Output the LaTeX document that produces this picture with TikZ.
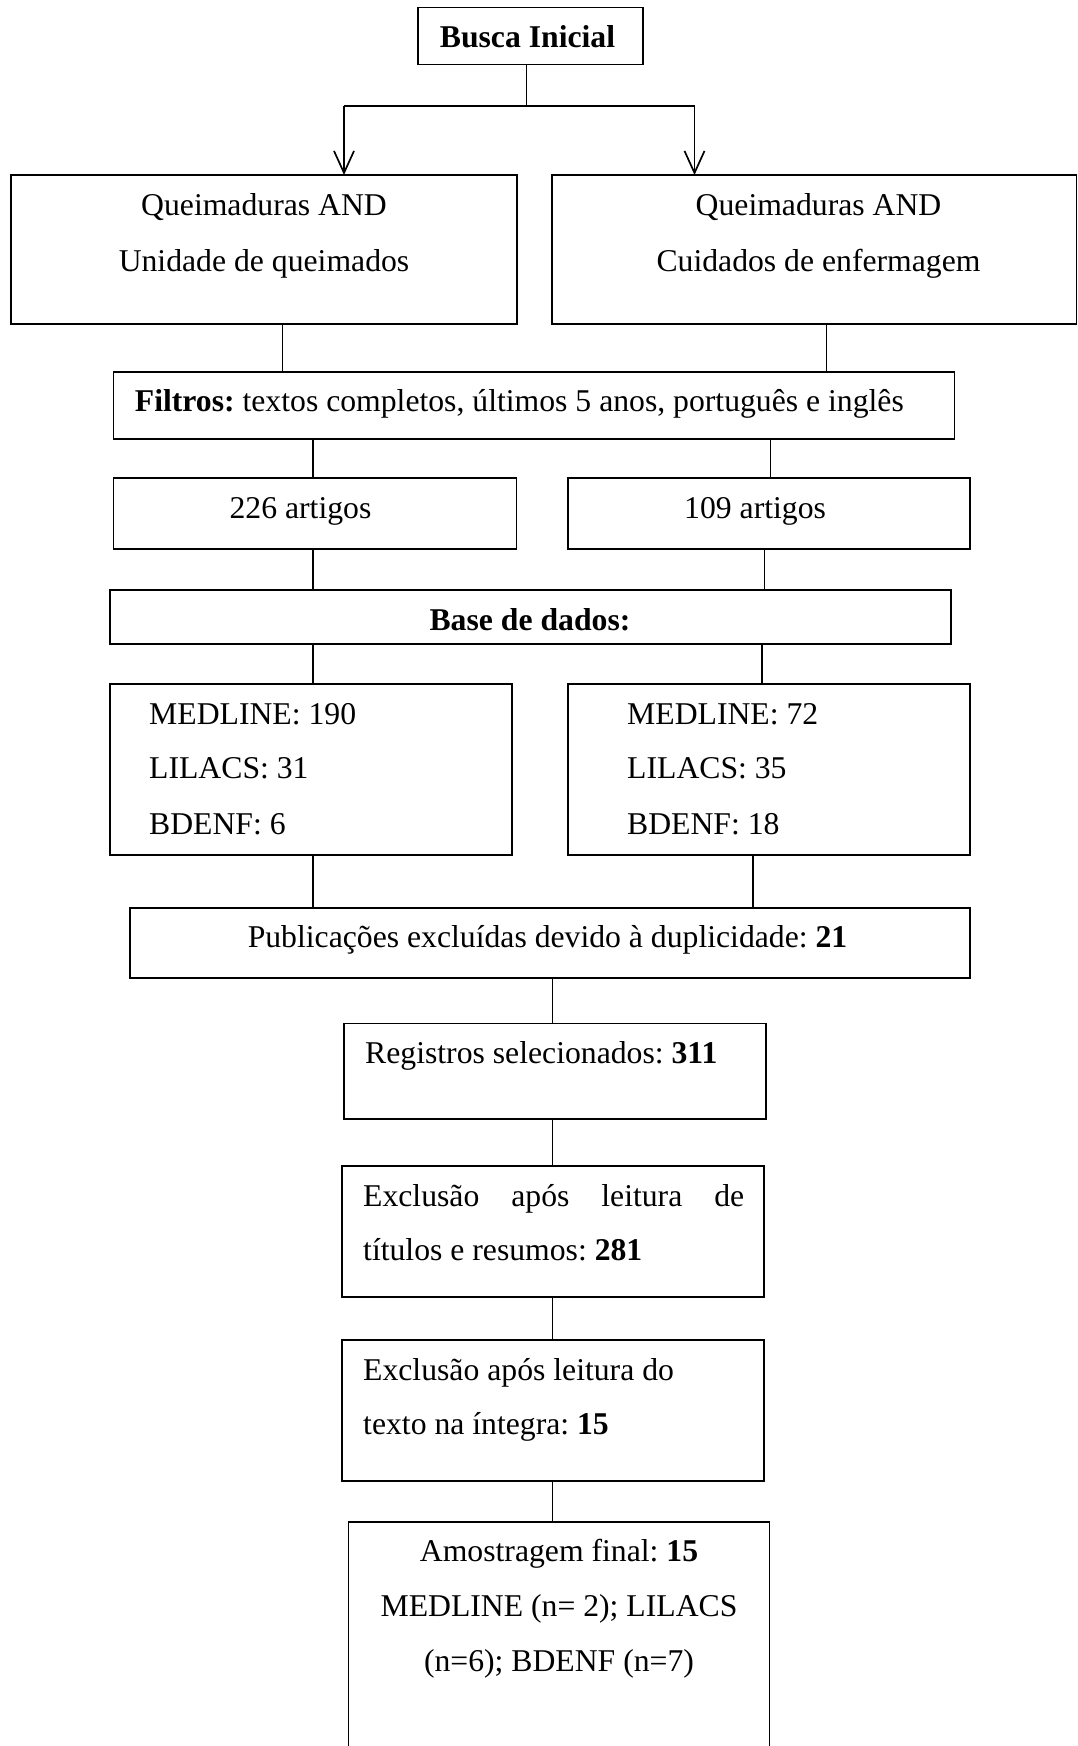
\documentclass[tikz,border=0pt]{standalone}
\usepackage{fontspec}
\setmainfont{Liberation Serif}
\usetikzlibrary{arrows.meta}
\frenchspacing
\begin{document}
\begin{tikzpicture}[x=1pt,y=-1pt,
  box/.style={draw, line width=1.2pt, rectangle, anchor=north west, inner sep=0pt, outer sep=0pt},
  txt/.style={inner sep=0pt, font=\fontsize{31.7}{57}\selectfont},
  link/.style={line width=1.2pt},
  arr/.style={line width=1.7pt, -{Straight Barb[length=22pt,width=20pt,line width=1.7pt]}}]
\useasboundingbox (0,0) rectangle (1078,1746);
\clip (0,0) rectangle (1078,1746);
% boxes
\node[box, minimum width=225pt, minimum height=57pt] (busca) at (418,7.5) {};
\node[box, minimum width=506pt, minimum height=149pt] (q1) at (11,175) {};
\node[box, minimum width=524.5pt, minimum height=149pt] (q2) at (552,175) {};
\node[box, minimum width=841pt, minimum height=67pt] (filtros) at (113.6,372) {};
\node[box, minimum width=403pt, minimum height=71pt] (a226) at (113.6,478) {};
\node[box, minimum width=402pt, minimum height=71pt] (a109) at (568,478) {};
\node[box, minimum width=841pt, minimum height=54pt] (base) at (110,590) {};
\node[box, minimum width=402pt, minimum height=171pt] (m1) at (110,684) {};
\node[box, minimum width=402pt, minimum height=171pt] (m2) at (568,684) {};
\node[box, minimum width=840pt, minimum height=70pt] (pub) at (130,908) {};
\node[box, minimum width=422pt, minimum height=95.5pt] (reg) at (344,1023.5) {};
\node[box, minimum width=422pt, minimum height=131pt] (exc1) at (342,1166) {};
\node[box, minimum width=422pt, minimum height=141pt] (exc2) at (342,1340) {};
\node[box, minimum width=421pt, minimum height=300pt] (amo) at (348.5,1522) {};
% texts
\node[txt, anchor=base] (tbusca) at (527.5,47.9) {\textbf{Busca Inicial}};
\node[txt, anchor=base] (tq1a) at (264,215) {Queimaduras AND};
\node[txt, anchor=base] (tq1b) at (264,271.7) {Unidade de queimados};
\node[txt, anchor=base] (tq2a) at (818.5,215) {Queimaduras AND};
\node[txt, anchor=base] (tq2b) at (818.5,271.7) {Cuidados de enfermagem};
\node[txt, anchor=base west] (tfil) at (134.7,411) {\textbf{Filtros:} textos completos, últimos 5 anos, português e inglês};
\node[txt, anchor=base west] (t226) at (229.4,518) {226 artigos};
\node[txt, anchor=base west] (t109) at (684,518) {109 artigos};
\node[txt, anchor=base] (tbase) at (530,630) {\textbf{Base de dados:}};
\node[txt, anchor=base west] (tm1a) at (149,724) {MEDLINE: 190};
\node[txt, anchor=base west] (tm1b) at (149,778.4) {LILACS: 31};
\node[txt, anchor=base west] (tm1c) at (149,834) {BDENF: 6};
\node[txt, anchor=base west] (tm2a) at (627,724) {MEDLINE: 72};
\node[txt, anchor=base west] (tm2b) at (627,778.4) {LILACS: 35};
\node[txt, anchor=base west] (tm2c) at (627,834) {BDENF: 18};
\node[txt, anchor=base] (tpub) at (547.5,947.7) {Publicações excluídas devido à duplicidade: \textbf{21}};
\node[txt, anchor=base west] (treg) at (365,1063.5) {Registros selecionados: \textbf{311}};
\node[txt, anchor=base west] (te1a) at (363,1206) {\makebox[381pt][s]{Exclusão\hfill após\hfill leitura\hfill de}};
\node[txt, anchor=base west] (te1b) at (363,1260.6) {títulos e resumos: \textbf{281}};
\node[txt, anchor=base west] (te2a) at (363,1380) {Exclusão após leitura do};
\node[txt, anchor=base west] (te2b) at (363,1434) {texto na íntegra: \textbf{15}};
\node[txt, anchor=base] (tam1) at (559,1561.5) {Amostragem final: \textbf{15}};
\node[txt, anchor=base] (tam2) at (559,1616.7) {MEDLINE (n= 2); LILACS};
\node[txt, anchor=base] (tam3) at (559,1671.7) {(n=6); BDENF (n=7)};
% connectors
\coordinate (sp) at (526.7,106);
\coordinate (spl) at (344,106);
\coordinate (spr) at (694.5,106);
\draw[link] (sp |- busca.south) -- (sp);
\draw[link] (spl) -- (spr);
\draw[arr] (spl) -- (spl |- q1.north);
\draw[arr] (spr) -- (spr |- q2.north);
\draw[link] (282.5,0 |- q1.south) -- (282.5,0 |- filtros.north);
\draw[link] (826.4,0 |- q2.south) -- (826.4,0 |- filtros.north);
\draw[link] (313,0 |- filtros.south) -- (313,0 |- a226.north);
\draw[link] (770.5,0 |- filtros.south) -- (770.5,0 |- a109.north);
\draw[link] (313,0 |- a226.south) -- (313,0 |- base.north);
\draw[link] (764.5,0 |- a109.south) -- (764.5,0 |- base.north);
\draw[link] (313,0 |- base.south) -- (313,0 |- m1.north);
\draw[link] (762,0 |- base.south) -- (762,0 |- m2.north);
\draw[link] (313,0 |- m1.south) -- (313,0 |- pub.north);
\draw[link] (753,0 |- m2.south) -- (753,0 |- pub.north);
\draw[link] (552.4,0 |- pub.south) -- (552.4,0 |- reg.north);
\draw[link] (552.4,0 |- reg.south) -- (552.4,0 |- exc1.north);
\draw[link] (552.4,0 |- exc1.south) -- (552.4,0 |- exc2.north);
\draw[link] (552.4,0 |- exc2.south) -- (552.4,0 |- amo.north);
\end{tikzpicture}
\end{document}
